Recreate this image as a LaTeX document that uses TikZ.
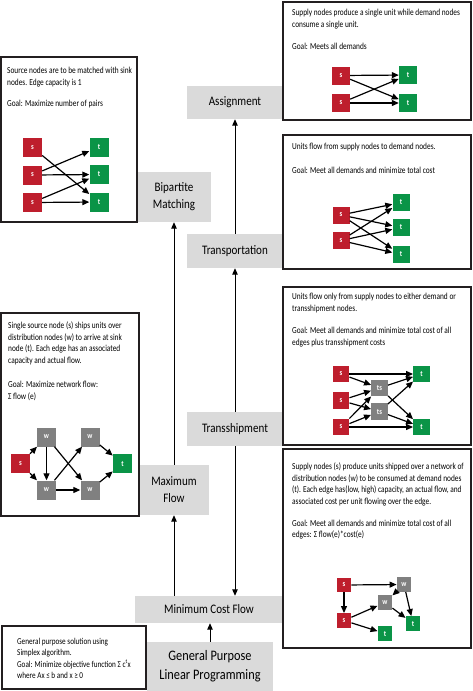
\documentclass[tikz,border=0pt]{standalone}
\usepackage{fontspec}
\setmainfont{Carlito}[FakeStretch=0.85]
\newfontfamily\descfont{Carlito}[FakeStretch=0.8]
\usetikzlibrary{arrows.meta,calc}
\definecolor{sred}{HTML}{BE1E2D}
\definecolor{tgreen}{HTML}{0A9447}
\definecolor{wgray}{HTML}{808080}
\definecolor{lblgray}{HTML}{DADADA}
\definecolor{bordercol}{HTML}{231F20}
\tikzset{
  descbox/.style={draw=bordercol, line width=1.3pt, fill=white, inner sep=0pt},
  lblbox/.style={fill=lblgray, inner sep=0pt, align=center, font=\fontsize{13}{17}\selectfont},
  desctext/.style={anchor=north west, inner sep=0pt, align=left, font=\descfont\fontsize{9.2}{11.5}\selectfont},
  mini/.style={inner sep=0pt, text=white, font=\bfseries\fontsize{8}{8}\selectfont},
  sn/.style={mini, fill=sred},
  tn/.style={mini, fill=tgreen},
  wn/.style={mini, fill=wgray},
  edge/.style={line width=1.2pt, -{Triangle[length=7pt,width=6pt]}},
  mainarr/.style={line width=1pt, -{Triangle[length=6.5pt,width=5.5pt]}}
}
\begin{document}
\begin{tikzpicture}[x=1pt,y=-1pt]
\useasboundingbox[fill=white] (0,0) rectangle (473,691);

% ---------- gray label boxes ----------
\node[lblbox, minimum width=96pt, minimum height=33pt] (assign) at (235,102.5) {Assignment};
\node[lblbox, minimum width=74pt, minimum height=50pt] (bip) at (174,197) {Bipartite\\Matching};
\node[lblbox, minimum width=96pt, minimum height=34pt] (transp) at (235,251) {Transportation};
\node[lblbox, minimum width=96pt, minimum height=34pt] (trans) at (235,429) {Transshipment};
\node[lblbox, minimum width=70pt, minimum height=50pt] (maxf) at (174,490) {Maximum\\Flow};
\node[lblbox, minimum width=148pt, minimum height=27pt] (mcf) at (209,609.5) {Minimum Cost Flow};
\node[lblbox, minimum width=126pt, minimum height=49pt, font=\fontsize{14.5}{19}\selectfont] (gplp) at (210,666.5) {General Purpose\\Linear Programming};

% ---------- description boxes ----------
\node[descbox, minimum width=188pt, minimum height=118pt] (assignD) at (377,61) {};
\node[descbox, minimum width=136pt, minimum height=165pt] (bipD) at (69,139.5) {};
\node[descbox, minimum width=188pt, minimum height=134pt] (transpD) at (377,202) {};
\node[descbox, minimum width=188pt, minimum height=158pt] (transD) at (377,366) {};
\node[descbox, minimum width=138pt, minimum height=203pt] (maxD) at (70,414.5) {};
\node[descbox, minimum width=188pt, minimum height=199pt] (mcfD) at (377,548.5) {};
\node[descbox, minimum width=144pt, minimum height=63pt] (gplpD) at (74,657.5) {};

% ---------- description texts ----------
\node[desctext] (assignT) at (292,9) {Supply nodes produce a single unit while demand nodes\\consume a single unit.\\[11pt]Goal: Meets all demands};
\node[desctext] (bipT) at (7,67) {Source nodes are to be matched with sink\\nodes. Edge capacity is 1\\[10pt]Goal: Maximize number of pairs};
\node[desctext] (transpT) at (292,143) {Units flow from supply nodes to demand nodes.\\[12pt]Goal: Meet all demands and minimize total cost};
\node[desctext] (transT) at (292,293) {Units flow only from supply nodes to either demand or\\transshipment nodes.\\[11pt]Goal: Meet all demands and minimize total cost of all\\edges plus transshipment costs};
\node[desctext] (mcfT) at (292,463) {Supply nodes (s) produce units shipped over a network of\\distribution nodes (w) to be consumed at demand nodes\\(t). Each edge has(low, high) capacity, an actual flow, and\\associated cost per unit flowing over the edge.\\[10.5pt]Goal: Meet all demands and minimize total cost of all\\edges: Σ flow(e)*cost(e)};
\node[desctext] (maxT) at (8,322) {Single source node (s) ships units over\\distribution nodes (w) to arrive at sink\\node (t). Each edge has an associated\\capacity and actual flow.\\[13pt]Goal: Maximize network flow:\\Σ flow (e)};
\node[desctext, font=\descfont\fontsize{9}{11.3}\selectfont] (gplpT) at (17,638) {General purpose solution using\\Simplex algorithm.\\Goal: Minimize objective function Σ c\textsuperscript{t}x\\where Ax ≤ b and x ≥ 0};

% ---------- main connectors ----------
\draw[mainarr] (gplp.north) -- (gplp.north |- mcf.south);
\draw[mainarr] (mcf.north -| maxf.south) -- (maxf.south);
\draw[mainarr] (maxf.north) -- (bip.south);
\draw[mainarr] (trans.south) -- (trans.south |- mcf.north);
\draw[mainarr] (trans.north) -- (transp.south);
\draw[mainarr] (transp.north) -- (assign.south);

% ---------- Bipartite mini graph ----------
\begin{scope}[every node/.append style={minimum size=19pt}]
\node[sn] (bs1) at (32.5,147.5) {s};
\node[sn] (bs2) at (32.5,175) {s};
\node[sn] (bs3) at (32.5,202.5) {s};
\node[tn] (bt1) at (99,147) {t};
\node[tn] (bt2) at (99,174.5) {t};
\node[tn] (bt3) at (99,202) {t};
\end{scope}
\draw[edge] (bs1) -- (bt3);
\draw[edge] (bs2) -- (bt1);
\draw[edge] (bs2) -- (bt2);
\draw[edge] (bs3) -- (bt2);
\draw[edge] (bs3) -- (bt3);

% ---------- Assignment mini graph ----------
\begin{scope}[every node/.append style={minimum size=18pt}]
\node[sn] (as1) at (341,75.5) {s};
\node[sn] (as2) at (341,103) {s};
\node[tn] (at1) at (408,75) {t};
\node[tn] (at2) at (408,103) {t};
\end{scope}
\draw[edge] (as1) -- (at1);
\draw[edge] (as1) -- (at2);
\draw[edge] (as2) -- (at1);
\draw[edge] (as2) -- (at2);

% ---------- Transportation mini graph ----------
\begin{scope}[every node/.append style={minimum size=17pt}]
\node[sn] (ps1) at (341,215) {s};
\node[sn] (ps2) at (341,240.5) {s};
\node[tn] (pt1) at (401,202.5) {t};
\node[tn] (pt2) at (401,227.5) {t};
\node[tn] (pt3) at (401,254.5) {t};
\end{scope}
\foreach \a in {ps1,ps2}{\foreach \b in {pt1,pt2,pt3}{\draw[edge] (\a) -- (\b);}}

% ---------- Transshipment mini graph ----------
\begin{scope}[every node/.append style={minimum size=16.5pt}]
\node[sn] (xs1) at (341,374) {s};
\node[sn] (xs2) at (341,400.5) {s};
\node[sn] (xs3) at (341,427) {s};
\node[wn] (xw1) at (379.5,388) {ts};
\node[wn] (xw2) at (379.5,411.5) {ts};
\node[tn] (xt1) at (421.5,374) {t};
\node[tn] (xt2) at (421.5,427) {t};
\end{scope}
\draw[edge] (xs1) -- (xt1);
\draw[edge] (xs1) -- (xw1);
\draw[edge] (xs2) -- (xw1);
\draw[edge] (xs2) -- (xw2);
\draw[edge] (xs3) -- (xw1);
\draw[edge] (xs3) -- (xw2);
\draw[edge] (xs3) -- (xt2);
\draw[edge] (xw1) -- (xt1);
\draw[edge] (xw1) -- (xt2);
\draw[edge] (xw2) -- (xt1);
\draw[edge] (xw2) -- (xt2);

% ---------- Maximum flow mini graph ----------
\begin{scope}[every node/.append style={minimum size=19pt}]
\node[sn] (ms) at (20.5,463.5) {s};
\node[wn] (mw1) at (46.5,437) {w};
\node[wn] (mw2) at (46.5,490) {w};
\node[wn] (mw3) at (90,437) {w};
\node[wn] (mw4) at (90,490) {w};
\node[tn] (mt) at (122.5,463.5) {t};
\end{scope}
\draw[edge] (ms) -- (mw1);
\draw[edge] (ms) -- (mw2);
\draw[edge] (mw1) -- (mw2);
\draw[edge] (mw1) -- (mw4);
\draw[edge] (mw2) -- (mw3);
\draw[edge] (mw2) -- (mw4);
\draw[edge] (mw3) -- (mt);
\draw[edge] (mw4) -- (mt);

% ---------- Minimum cost flow mini graph ----------
\begin{scope}[every node/.append style={minimum size=14.5pt}]
\node[sn] (cs1) at (344,585) {s};
\node[sn] (cs2) at (344,620.5) {s};
\node[wn] (cw1) at (404,584.5) {w};
\node[wn] (cw2) at (385,602.5) {w};
\node[tn] (ct1) at (413,623.5) {t};
\node[tn] (ct2) at (385,633.5) {t};
\end{scope}
\draw[edge] (cs1) -- (cw1);
\draw[edge] (cs1) -- (cs2);
\draw[edge] (cs2) -- (cw2);
\draw[edge] (cs2) -- (ct2);
\draw[edge] (cw1) -- (cw2);
\draw[edge] (cw1) -- (ct1);
\draw[edge] (cw2) -- (ct1);
\end{tikzpicture}
\end{document}
